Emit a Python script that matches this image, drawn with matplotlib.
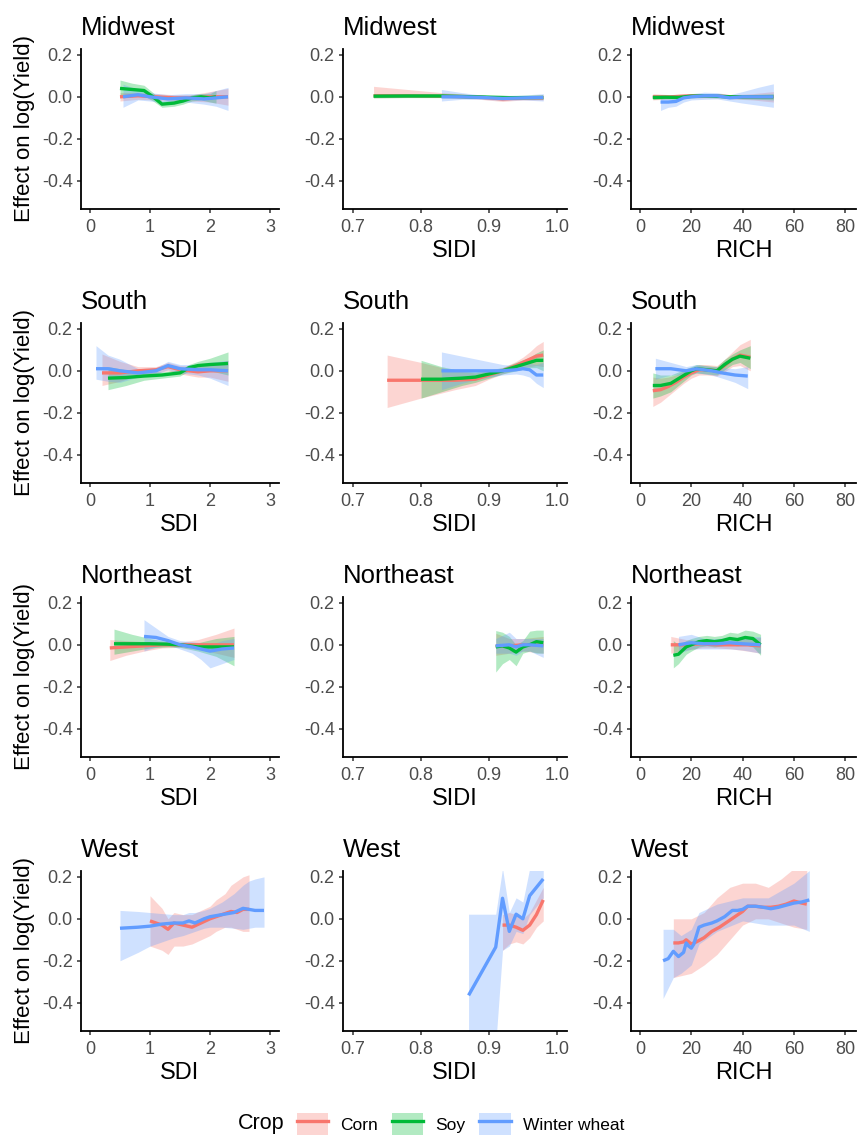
import matplotlib
matplotlib.use("Agg")
import matplotlib.pyplot as plt
from matplotlib.patches import Patch
from matplotlib.lines import Line2D

plt.rcParams['font.family'] = ['Liberation Sans', 'DejaVu Sans']
plt.rcParams['axes.unicode_minus'] = False

crops = ['Corn', 'Soy', 'Winter wheat']
crop_colors = ['#F8766D', '#00BA38', '#619CFF']
regions = ['Midwest', 'South', 'Northeast', 'West']
metrics = ['SDI', 'SIDI', 'RICH']

# ---------------- Midwest ----------------
mw_sdi_corn_x = [0.5, 0.8, 1.1, 1.4, 1.7, 2.0, 2.3]
mw_sdi_corn_y = [0.0, 0.005, 0.0, -0.005, -0.005, 0.0, 0.0]
mw_sdi_corn_lo = [-0.02, -0.012, -0.015, -0.02, -0.02, -0.025, -0.04]
mw_sdi_corn_hi = [0.02, 0.02, 0.015, 0.01, 0.01, 0.025, 0.04]
mw_sdi_soy_x = [0.5, 0.7, 0.9, 1.05, 1.2, 1.4, 1.55, 1.7, 1.85, 2.0, 2.1]
mw_sdi_soy_y = [0.04, 0.035, 0.03, 0.0, -0.035, -0.03, -0.02, -0.005, 0.0, -0.005, 0.0]
mw_sdi_soy_lo = [0.0, 0.005, 0.005, -0.02, -0.05, -0.045, -0.035, -0.02, -0.015, -0.025, -0.03]
mw_sdi_soy_hi = [0.08, 0.065, 0.055, 0.02, -0.02, -0.015, -0.005, 0.01, 0.015, 0.015, 0.03]
mw_sdi_ww_x = [0.55, 0.8, 1.0, 1.3, 1.6, 1.9, 2.1, 2.3]
mw_sdi_ww_y = [0.0, 0.01, 0.0, -0.01, -0.005, -0.01, -0.005, 0.0]
mw_sdi_ww_lo = [-0.05, -0.015, -0.02, -0.03, -0.025, -0.035, -0.045, -0.065]
mw_sdi_ww_hi = [0.06, 0.035, 0.02, 0.01, 0.015, 0.015, 0.03, 0.045]

mw_sidi_corn_x = [0.73, 0.78, 0.83, 0.88, 0.92, 0.95, 0.98]
mw_sidi_corn_y = [0.005, 0.005, 0.003, 0.0, -0.01, -0.005, -0.005]
mw_sidi_corn_lo = [-0.005, -0.003, -0.003, -0.01, -0.022, -0.015, -0.015]
mw_sidi_corn_hi = [0.05, 0.035, 0.02, 0.01, 0.0, 0.005, 0.01]
mw_sidi_soy_x = [0.73, 0.78, 0.83, 0.88, 0.93, 0.98]
mw_sidi_soy_y = [0.003, 0.004, 0.004, 0.0, -0.004, -0.003]
mw_sidi_soy_lo = [-0.005, -0.004, -0.004, -0.008, -0.012, -0.012]
mw_sidi_soy_hi = [0.011, 0.012, 0.012, 0.008, 0.004, 0.006]
mw_sidi_ww_x = [0.83, 0.86, 0.89, 0.92, 0.95, 0.98]
mw_sidi_ww_y = [0.0, 0.0, -0.003, -0.008, -0.005, -0.003]
mw_sidi_ww_lo = [-0.02, -0.012, -0.012, -0.018, -0.015, -0.02]
mw_sidi_ww_hi = [0.035, 0.02, 0.008, 0.002, 0.008, 0.015]

mw_rich_corn_x = [5, 12, 20, 28, 36, 44, 52]
mw_rich_corn_y = [0.0, 0.0, 0.005, 0.005, 0.0, 0.0, 0.0]
mw_rich_corn_lo = [-0.015, -0.01, -0.005, -0.005, -0.01, -0.015, -0.025]
mw_rich_corn_hi = [0.015, 0.01, 0.015, 0.015, 0.01, 0.015, 0.025]
mw_rich_soy_x = [5, 10, 15, 20, 25, 30, 35, 40, 46, 52]
mw_rich_soy_y = [-0.003, -0.002, -0.003, 0.003, 0.005, 0.003, 0.0, 0.0, 0.0, 0.0]
mw_rich_soy_lo = [-0.013, -0.01, -0.012, -0.005, -0.003, -0.005, -0.008, -0.01, -0.012, -0.015]
mw_rich_soy_hi = [0.008, 0.006, 0.006, 0.011, 0.013, 0.011, 0.008, 0.01, 0.012, 0.015]
mw_rich_ww_x = [8, 11, 14, 17, 20, 25, 30, 35, 40, 46, 52]
mw_rich_ww_y = [-0.025, -0.025, -0.022, -0.005, 0.0, 0.005, 0.005, -0.005, 0.0, 0.0, 0.0]
mw_rich_ww_lo = [-0.065, -0.05, -0.045, -0.025, -0.015, -0.012, -0.01, -0.02, -0.03, -0.04, -0.05]
mw_rich_ww_hi = [0.01, 0.0, 0.0, 0.012, 0.015, 0.022, 0.02, 0.01, 0.025, 0.045, 0.062]

# ---------------- South ----------------
so_sdi_corn_x = [0.2, 0.5, 0.8, 1.1, 1.3, 1.5, 1.8, 2.0, 2.3]
so_sdi_corn_y = [-0.01, -0.01, 0.0, 0.005, 0.02, 0.005, -0.005, 0.0, 0.0]
so_sdi_corn_lo = [-0.07, -0.05, -0.02, -0.01, 0.0, -0.015, -0.03, -0.03, -0.05]
so_sdi_corn_hi = [0.08, 0.045, 0.02, 0.02, 0.04, 0.025, 0.02, 0.03, 0.05]
so_sdi_soy_x = [0.3, 0.6, 0.9, 1.2, 1.5, 1.65, 1.8, 2.0, 2.3]
so_sdi_soy_y = [-0.035, -0.032, -0.025, -0.02, -0.01, 0.015, 0.025, 0.03, 0.035]
so_sdi_soy_lo = [-0.09, -0.07, -0.045, -0.035, -0.025, 0.0, 0.005, 0.0, -0.02]
so_sdi_soy_hi = [0.02, 0.005, -0.005, -0.005, 0.005, 0.03, 0.045, 0.06, 0.09]
so_sdi_ww_x = [0.1, 0.3, 0.5, 0.8, 1.1, 1.3, 1.5, 1.8, 2.0, 2.3]
so_sdi_ww_y = [0.01, 0.01, 0.0, -0.01, 0.0, 0.025, 0.01, 0.005, 0.005, 0.0]
so_sdi_ww_lo = [-0.04, -0.05, -0.055, -0.03, -0.015, 0.005, -0.01, -0.02, -0.035, -0.07]
so_sdi_ww_hi = [0.12, 0.075, 0.055, 0.01, 0.015, 0.045, 0.03, 0.03, 0.04, 0.05]

so_sidi_corn_x = [0.75, 0.8, 0.85, 0.88, 0.9, 0.92, 0.94, 0.95, 0.96, 0.97, 0.98]
so_sidi_corn_y = [-0.045, -0.045, -0.045, -0.04, -0.02, 0.0, 0.025, 0.04, 0.055, 0.07, 0.075]
so_sidi_corn_lo = [-0.175, -0.13, -0.09, -0.07, -0.04, -0.015, 0.005, 0.015, 0.02, 0.025, 0.02]
so_sidi_corn_hi = [0.075, 0.04, 0.0, -0.01, 0.0, 0.015, 0.045, 0.065, 0.09, 0.12, 0.14]
so_sidi_soy_x = [0.8, 0.83, 0.86, 0.88, 0.9, 0.92, 0.94, 0.96, 0.97, 0.98]
so_sidi_soy_y = [-0.04, -0.04, -0.035, -0.03, -0.015, 0.0, 0.02, 0.04, 0.05, 0.05]
so_sidi_soy_lo = [-0.13, -0.1, -0.07, -0.055, -0.035, -0.015, 0.0, 0.015, 0.015, 0.0]
so_sidi_soy_hi = [0.05, 0.02, 0.0, -0.005, 0.005, 0.015, 0.04, 0.065, 0.085, 0.1]
so_sidi_ww_x = [0.83, 0.86, 0.89, 0.92, 0.94, 0.95, 0.96, 0.97, 0.98]
so_sidi_ww_y = [0.0, 0.0, 0.0, 0.0, 0.005, 0.01, 0.005, -0.02, -0.02]
so_sidi_ww_lo = [-0.09, -0.06, -0.035, -0.02, -0.015, -0.02, -0.03, -0.06, -0.08]
so_sidi_ww_hi = [0.09, 0.07, 0.05, 0.03, 0.025, 0.035, 0.035, 0.03, 0.04]

so_rich_corn_x = [5, 8, 11, 14, 17, 20, 23, 26, 30, 33, 36, 39, 43]
so_rich_corn_y = [-0.095, -0.09, -0.075, -0.055, -0.03, -0.01, 0.005, 0.005, 0.0, 0.025, 0.055, 0.075, 0.065]
so_rich_corn_lo = [-0.17, -0.15, -0.12, -0.09, -0.06, -0.035, -0.02, -0.02, -0.025, -0.005, 0.02, 0.025, 0.0]
so_rich_corn_hi = [-0.03, -0.035, -0.03, -0.02, 0.0, 0.015, 0.03, 0.03, 0.025, 0.055, 0.09, 0.125, 0.15]
so_rich_soy_x = [5, 8, 12, 16, 20, 22, 26, 30, 33, 36, 39, 43]
so_rich_soy_y = [-0.07, -0.07, -0.06, -0.03, 0.0, 0.01, 0.005, 0.0, 0.03, 0.055, 0.07, 0.06]
so_rich_soy_lo = [-0.13, -0.12, -0.1, -0.06, -0.02, -0.01, -0.015, -0.02, 0.005, 0.03, 0.04, 0.01]
so_rich_soy_hi = [-0.01, -0.02, -0.02, 0.0, 0.02, 0.03, 0.025, 0.02, 0.055, 0.08, 0.1, 0.12]
so_rich_ww_x = [6, 9, 12, 15, 18, 22, 25, 28, 32, 37, 42]
so_rich_ww_y = [0.01, 0.01, 0.01, 0.005, 0.0, 0.01, 0.005, 0.0, -0.01, -0.02, -0.025]
so_rich_ww_lo = [-0.04, -0.03, -0.02, -0.02, -0.02, -0.01, -0.015, -0.02, -0.035, -0.055, -0.085]
so_rich_ww_hi = [0.06, 0.05, 0.04, 0.03, 0.02, 0.03, 0.025, 0.02, 0.015, 0.01, 0.02]

# ---------------- Northeast ----------------
ne_sdi_corn_x = [0.33, 0.6, 0.9, 1.2, 1.5, 1.8, 2.1, 2.4]
ne_sdi_corn_y = [-0.015, -0.01, -0.005, 0.0, 0.0, 0.0, 0.0, 0.0]
ne_sdi_corn_lo = [-0.075, -0.05, -0.03, -0.015, -0.012, -0.02, -0.04, -0.06]
ne_sdi_corn_hi = [0.025, 0.02, 0.015, 0.015, 0.012, 0.025, 0.05, 0.08]
ne_sdi_soy_x = [0.4, 0.7, 1.0, 1.3, 1.5, 1.8, 2.1, 2.4]
ne_sdi_soy_y = [0.005, 0.005, 0.005, 0.003, 0.0, -0.01, -0.01, -0.01]
ne_sdi_soy_lo = [-0.045, -0.03, -0.015, -0.01, -0.012, -0.03, -0.055, -0.1]
ne_sdi_soy_hi = [0.075, 0.05, 0.03, 0.015, 0.012, 0.01, 0.03, 0.04]
ne_sdi_ww_x = [0.9, 1.1, 1.3, 1.5, 1.7, 1.85, 2.0, 2.2, 2.4]
ne_sdi_ww_y = [0.04, 0.035, 0.02, 0.0, -0.01, -0.02, -0.03, -0.02, -0.015]
ne_sdi_ww_lo = [-0.03, -0.01, 0.0, -0.02, -0.04, -0.07, -0.11, -0.09, -0.07]
ne_sdi_ww_hi = [0.12, 0.08, 0.04, 0.02, 0.015, 0.01, 0.0, 0.02, 0.03]

ne_sidi_corn_x = [0.91, 0.93, 0.95, 0.98]
ne_sidi_corn_y = [-0.005, -0.005, 0.0, 0.0]
ne_sidi_corn_lo = [-0.05, -0.04, -0.03, -0.04]
ne_sidi_corn_hi = [0.055, 0.03, 0.03, 0.04]
ne_sidi_soy_x = [0.91, 0.92, 0.93, 0.94, 0.95, 0.96, 0.97, 0.98]
ne_sidi_soy_y = [-0.01, -0.005, -0.015, -0.035, -0.01, 0.0, 0.015, 0.01]
ne_sidi_soy_lo = [-0.13, -0.09, -0.07, -0.1, -0.04, -0.03, -0.04, -0.04]
ne_sidi_soy_hi = [0.068, 0.06, 0.04, 0.0, 0.02, 0.065, 0.07, 0.07]
ne_sidi_ww_x = [0.91, 0.93, 0.94, 0.95, 0.96, 0.98]
ne_sidi_ww_y = [-0.005, 0.0, -0.01, 0.0, 0.0, -0.005]
ne_sidi_ww_lo = [-0.04, -0.04, -0.05, -0.03, -0.03, -0.06]
ne_sidi_ww_hi = [0.03, 0.06, 0.03, 0.03, 0.03, 0.03]

ne_rich_corn_x = [12, 18, 24, 30, 36, 42, 47]
ne_rich_corn_y = [0.0, 0.0, 0.005, 0.0, 0.0, 0.0, -0.005]
ne_rich_corn_lo = [-0.04, -0.025, -0.015, -0.015, -0.02, -0.03, -0.04]
ne_rich_corn_hi = [0.04, 0.025, 0.02, 0.015, 0.02, 0.03, 0.035]
ne_rich_soy_x = [13, 15, 18, 20, 23, 26, 29, 32, 35, 38, 41, 44, 47]
ne_rich_soy_y = [-0.05, -0.045, -0.01, 0.0, 0.015, 0.02, 0.015, 0.02, 0.03, 0.025, 0.035, 0.03, 0.0]
ne_rich_soy_lo = [-0.11, -0.09, -0.045, -0.03, -0.01, -0.005, -0.01, -0.005, 0.0, -0.005, 0.0, -0.01, -0.05]
ne_rich_soy_hi = [0.02, 0.0, 0.02, 0.03, 0.04, 0.045, 0.04, 0.045, 0.06, 0.055, 0.07, 0.065, 0.05]
ne_rich_ww_x = [15, 20, 25, 30, 35, 40, 47]
ne_rich_ww_y = [0.0, 0.01, 0.005, 0.005, 0.01, 0.005, 0.0]
ne_rich_ww_lo = [-0.04, -0.02, -0.02, -0.02, -0.02, -0.025, -0.04]
ne_rich_ww_hi = [0.04, 0.05, 0.03, 0.03, 0.035, 0.035, 0.04]

# ---------------- West (no soy) ----------------
we_sdi_corn_x = [1.0, 1.1, 1.2, 1.3, 1.4, 1.55, 1.7, 1.85, 2.0, 2.1, 2.25, 2.35, 2.45, 2.55, 2.65]
we_sdi_corn_y = [-0.01, -0.02, -0.03, -0.05, -0.02, -0.03, -0.04, -0.02, 0.0, 0.01, 0.025, 0.035, 0.03, 0.045, 0.045]
we_sdi_corn_lo = [-0.13, -0.14, -0.15, -0.17, -0.13, -0.13, -0.12, -0.1, -0.08, -0.06, -0.04, -0.04, -0.05, -0.06, -0.06]
we_sdi_corn_hi = [0.11, 0.08, 0.05, 0.0, 0.03, 0.02, 0.02, 0.04, 0.06, 0.09, 0.12, 0.16, 0.18, 0.2, 0.21]
we_sdi_ww_x = [0.5, 0.8, 1.0, 1.2, 1.4, 1.55, 1.65, 1.75, 1.9, 2.0, 2.2, 2.4, 2.55, 2.65, 2.75, 2.9]
we_sdi_ww_y = [-0.045, -0.04, -0.035, -0.025, -0.02, -0.02, -0.01, -0.02, 0.0, 0.01, 0.02, 0.03, 0.05, 0.045, 0.04, 0.04]
we_sdi_ww_lo = [-0.2, -0.16, -0.13, -0.11, -0.09, -0.08, -0.07, -0.06, -0.045, -0.04, -0.04, -0.045, -0.05, -0.045, -0.04, -0.04]
we_sdi_ww_hi = [0.04, 0.035, 0.03, 0.025, 0.02, 0.02, 0.03, 0.03, 0.04, 0.05, 0.08, 0.12, 0.16, 0.18, 0.19, 0.2]

we_sidi_corn_x = [0.92, 0.93, 0.94, 0.95, 0.96, 0.97, 0.98]
we_sidi_corn_y = [-0.03, -0.03, -0.04, -0.055, -0.03, 0.02, 0.09]
we_sidi_corn_lo = [-0.15, -0.12, -0.11, -0.12, -0.09, -0.04, -0.01]
we_sidi_corn_hi = [0.02, 0.03, 0.02, 0.0, 0.03, 0.09, 0.15]
we_sidi_ww_x = [0.87, 0.91, 0.92, 0.93, 0.94, 0.95, 0.96, 0.97, 0.98]
we_sidi_ww_y = [-0.365, -0.135, 0.098, -0.06, 0.022, 0.0, 0.11, 0.15, 0.19]
we_sidi_ww_lo = [-0.9, -0.6, -0.15, -0.13, -0.06, -0.07, 0.02, 0.06, 0.1]
we_sidi_ww_hi = [0.022, 0.022, 0.24, 0.03, 0.1, 0.08, 0.24, 0.24, 0.24]

we_rich_corn_x = [13, 15, 17, 18, 20, 22, 25, 28, 31, 34, 37, 40, 42, 45, 48, 51, 54, 57, 60, 63, 65]
we_rich_corn_y = [-0.115, -0.115, -0.11, -0.1, -0.12, -0.11, -0.09, -0.06, -0.04, -0.015, 0.01, 0.035, 0.06,
                  0.06, 0.055, 0.055, 0.06, 0.07, 0.085, 0.075, 0.07]
we_rich_corn_band_x = [13, 20, 25, 30, 35, 40, 45, 50, 55, 60, 65]
we_rich_corn_lo = [-0.28, -0.26, -0.22, -0.17, -0.1, -0.03, 0.0, 0.0, -0.02, -0.04, -0.05]
we_rich_corn_hi = [0.0, 0.0, 0.03, 0.1, 0.15, 0.17, 0.17, 0.15, 0.19, 0.24, 0.24]
we_rich_ww_x = [9, 11, 13, 15, 17, 18, 19, 20, 21, 23, 25, 28, 30, 33, 36, 38, 40, 42, 45, 48, 51, 54, 57, 60, 63, 66]
we_rich_ww_y = [-0.2, -0.19, -0.155, -0.18, -0.16, -0.115, -0.13, -0.14, -0.12, -0.04, -0.03, -0.02, -0.01,
                0.01, 0.04, 0.04, 0.045, 0.06, 0.06, 0.055, 0.048, 0.055, 0.065, 0.075, 0.08, 0.09]
we_rich_ww_band_x = [9, 13, 16, 20, 23, 30, 40, 50, 60, 66]
we_rich_ww_lo = [-0.38, -0.28, -0.26, -0.22, -0.12, -0.06, -0.01, -0.03, -0.03, -0.06]
we_rich_ww_hi = [-0.05, -0.05, -0.08, -0.05, 0.03, 0.07, 0.1, 0.1, 0.17, 0.23]

# (line_x, line_y, band_x, band_lo, band_hi) per crop, None where a crop is missing
panels = {
    ('Midwest', 'SDI'): [(mw_sdi_corn_x, mw_sdi_corn_y, mw_sdi_corn_x, mw_sdi_corn_lo, mw_sdi_corn_hi),
                         (mw_sdi_soy_x, mw_sdi_soy_y, mw_sdi_soy_x, mw_sdi_soy_lo, mw_sdi_soy_hi),
                         (mw_sdi_ww_x, mw_sdi_ww_y, mw_sdi_ww_x, mw_sdi_ww_lo, mw_sdi_ww_hi)],
    ('Midwest', 'SIDI'): [(mw_sidi_corn_x, mw_sidi_corn_y, mw_sidi_corn_x, mw_sidi_corn_lo, mw_sidi_corn_hi),
                          (mw_sidi_soy_x, mw_sidi_soy_y, mw_sidi_soy_x, mw_sidi_soy_lo, mw_sidi_soy_hi),
                          (mw_sidi_ww_x, mw_sidi_ww_y, mw_sidi_ww_x, mw_sidi_ww_lo, mw_sidi_ww_hi)],
    ('Midwest', 'RICH'): [(mw_rich_corn_x, mw_rich_corn_y, mw_rich_corn_x, mw_rich_corn_lo, mw_rich_corn_hi),
                          (mw_rich_soy_x, mw_rich_soy_y, mw_rich_soy_x, mw_rich_soy_lo, mw_rich_soy_hi),
                          (mw_rich_ww_x, mw_rich_ww_y, mw_rich_ww_x, mw_rich_ww_lo, mw_rich_ww_hi)],
    ('South', 'SDI'): [(so_sdi_corn_x, so_sdi_corn_y, so_sdi_corn_x, so_sdi_corn_lo, so_sdi_corn_hi),
                       (so_sdi_soy_x, so_sdi_soy_y, so_sdi_soy_x, so_sdi_soy_lo, so_sdi_soy_hi),
                       (so_sdi_ww_x, so_sdi_ww_y, so_sdi_ww_x, so_sdi_ww_lo, so_sdi_ww_hi)],
    ('South', 'SIDI'): [(so_sidi_corn_x, so_sidi_corn_y, so_sidi_corn_x, so_sidi_corn_lo, so_sidi_corn_hi),
                        (so_sidi_soy_x, so_sidi_soy_y, so_sidi_soy_x, so_sidi_soy_lo, so_sidi_soy_hi),
                        (so_sidi_ww_x, so_sidi_ww_y, so_sidi_ww_x, so_sidi_ww_lo, so_sidi_ww_hi)],
    ('South', 'RICH'): [(so_rich_corn_x, so_rich_corn_y, so_rich_corn_x, so_rich_corn_lo, so_rich_corn_hi),
                        (so_rich_soy_x, so_rich_soy_y, so_rich_soy_x, so_rich_soy_lo, so_rich_soy_hi),
                        (so_rich_ww_x, so_rich_ww_y, so_rich_ww_x, so_rich_ww_lo, so_rich_ww_hi)],
    ('Northeast', 'SDI'): [(ne_sdi_corn_x, ne_sdi_corn_y, ne_sdi_corn_x, ne_sdi_corn_lo, ne_sdi_corn_hi),
                           (ne_sdi_soy_x, ne_sdi_soy_y, ne_sdi_soy_x, ne_sdi_soy_lo, ne_sdi_soy_hi),
                           (ne_sdi_ww_x, ne_sdi_ww_y, ne_sdi_ww_x, ne_sdi_ww_lo, ne_sdi_ww_hi)],
    ('Northeast', 'SIDI'): [(ne_sidi_corn_x, ne_sidi_corn_y, ne_sidi_corn_x, ne_sidi_corn_lo, ne_sidi_corn_hi),
                            (ne_sidi_soy_x, ne_sidi_soy_y, ne_sidi_soy_x, ne_sidi_soy_lo, ne_sidi_soy_hi),
                            (ne_sidi_ww_x, ne_sidi_ww_y, ne_sidi_ww_x, ne_sidi_ww_lo, ne_sidi_ww_hi)],
    ('Northeast', 'RICH'): [(ne_rich_corn_x, ne_rich_corn_y, ne_rich_corn_x, ne_rich_corn_lo, ne_rich_corn_hi),
                            (ne_rich_soy_x, ne_rich_soy_y, ne_rich_soy_x, ne_rich_soy_lo, ne_rich_soy_hi),
                            (ne_rich_ww_x, ne_rich_ww_y, ne_rich_ww_x, ne_rich_ww_lo, ne_rich_ww_hi)],
    ('West', 'SDI'): [(we_sdi_corn_x, we_sdi_corn_y, we_sdi_corn_x, we_sdi_corn_lo, we_sdi_corn_hi),
                      None,
                      (we_sdi_ww_x, we_sdi_ww_y, we_sdi_ww_x, we_sdi_ww_lo, we_sdi_ww_hi)],
    ('West', 'SIDI'): [(we_sidi_corn_x, we_sidi_corn_y, we_sidi_corn_x, we_sidi_corn_lo, we_sidi_corn_hi),
                       None,
                       (we_sidi_ww_x, we_sidi_ww_y, we_sidi_ww_x, we_sidi_ww_lo, we_sidi_ww_hi)],
    ('West', 'RICH'): [(we_rich_corn_x, we_rich_corn_y, we_rich_corn_band_x, we_rich_corn_lo, we_rich_corn_hi),
                       None,
                       (we_rich_ww_x, we_rich_ww_y, we_rich_ww_band_x, we_rich_ww_lo, we_rich_ww_hi)],
}

x_ticks = {'SDI': [0, 1, 2, 3], 'SIDI': [0.7, 0.8, 0.9, 1.0], 'RICH': [0, 20, 40, 60, 80]}
x_tick_labels = {'SDI': ['0', '1', '2', '3'], 'SIDI': ['0.7', '0.8', '0.9', '1.0'],
                 'RICH': ['0', '20', '40', '60', '80']}
x_lims = {'SDI': (-0.15, 3.15), 'SIDI': (0.685, 1.015), 'RICH': (-3.5, 84.2)}
y_ticks = [-0.4, -0.2, 0.0, 0.2]

# figure layout in pixels
W, H = 858, 1139
fig = plt.figure(figsize=(W / 100, H / 100), dpi=100)
col_left = [81, 343, 631]
col_width = [198, 224, 225]
row_bottom = [209, 483, 757, 1031]
panel_h = 160

for r, region in enumerate(regions):
    for c, metric in enumerate(metrics):
        ax = fig.add_axes([col_left[c] / W, 1 - row_bottom[r] / H, col_width[c] / W, panel_h / H])
        series = panels[(region, metric)]
        # ribbons first, then lines (ggplot layer order)
        for s, col in zip(series, crop_colors):
            if s is None:
                continue
            ax.fill_between(s[2], s[3], s[4], color=col, alpha=0.3, lw=0)
        for s, col in zip(series, crop_colors):
            if s is None:
                continue
            ax.plot(s[0], s[1], color=col, lw=2.4, solid_capstyle='butt')

        ax.set_xlim(*x_lims[metric])
        ax.set_ylim(-0.535, 0.228)
        ax.set_xticks(x_ticks[metric])
        ax.set_xticklabels(x_tick_labels[metric])
        ax.set_yticks(y_ticks)
        ax.set_yticklabels([f'{v:.1f}' for v in y_ticks])
        for side in ['top', 'right']:
            ax.spines[side].set_visible(False)
        for side in ['left', 'bottom']:
            ax.spines[side].set_linewidth(1.3)
            ax.spines[side].set_color('black')
        ax.tick_params(axis='both', length=3, width=1.1, color='#333333', labelsize=13, labelcolor='#4D4D4D')
        ax.tick_params(axis='x', pad=4)
        ax.tick_params(axis='y', pad=3)
        ax.set_title(region, loc='left', fontsize=18.5, pad=10)
        ax.set_xlabel(metric, fontsize=17, labelpad=3)
        if c == 0:
            ax.set_ylabel('Effect on log(Yield)', fontsize=16, labelpad=5)

# legend along the bottom
handles = [(Patch(facecolor=col, alpha=0.3, edgecolor='none'), Line2D([], [], color=col, lw=2.4))
           for col in crop_colors]
fig.legend(handles, crops, ncol=3, loc='center left', bbox_to_anchor=(297 / W, 1 - 1124 / H),
           frameon=False, fontsize=12.5, handlelength=1.8, handleheight=1.6, handletextpad=0.7,
           columnspacing=0.8, borderpad=0, borderaxespad=0)
fig.text(238 / W, 1 - 1124 / H, 'Crop', fontsize=15.5, va='center', ha='left')

fig.savefig('out.png', dpi=100)
